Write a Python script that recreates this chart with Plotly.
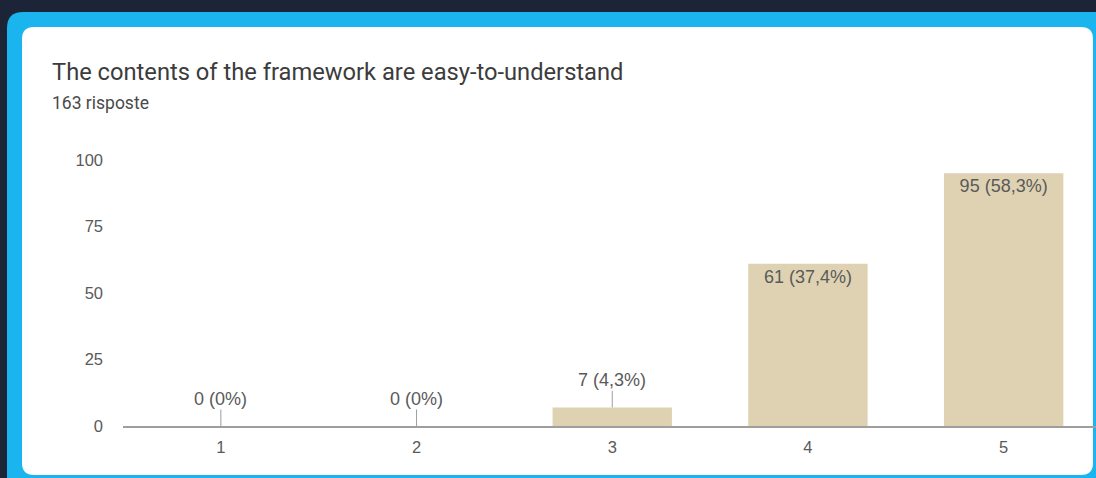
import plotly.graph_objects as go

categories = ["1", "2", "3", "4", "5"]
counts = [0, 0, 7, 61, 95]
percent_labels = ["0%", "0%", "4,3%", "37,4%", "58,3%"]
title_text = "The contents of the framework are easy-to-understand"
subtitle_text = "163 risposte"
y_ticks = [0, 25, 50, 75, 100]

W, H = 1096, 478
ML, MR, MT, MB = 123, 0, 160, 52
PW, PH = W - ML - MR, H - MT - MB

LABEL_FONT = "Liberation Sans, Arial, sans-serif"
TEXT_GRAY = "#5a5a5a"

def px(x, y):
    return (x - ML) / PW, (H - MB - y) / PH

def rounded_rect(x0, y0, x1, y1, r):
    pts = []
    a = px(x0 + r, y0); pts.append(f"M{a[0]},{a[1]}")
    a = px(x1 - r, y0); pts.append(f"L{a[0]},{a[1]}")
    c = px(x1, y0); e = px(x1, y0 + r); pts.append(f"Q{c[0]},{c[1]} {e[0]},{e[1]}")
    a = px(x1, y1 - r); pts.append(f"L{a[0]},{a[1]}")
    c = px(x1, y1); e = px(x1 - r, y1); pts.append(f"Q{c[0]},{c[1]} {e[0]},{e[1]}")
    a = px(x0 + r, y1); pts.append(f"L{a[0]},{a[1]}")
    c = px(x0, y1); e = px(x0, y1 - r); pts.append(f"Q{c[0]},{c[1]} {e[0]},{e[1]}")
    a = px(x0, y0 + r); pts.append(f"L{a[0]},{a[1]}")
    c = px(x0, y0); e = px(x0 + r, y0); pts.append(f"Q{c[0]},{c[1]} {e[0]},{e[1]}")
    pts.append("Z")
    return " ".join(pts)

labels = [f"{c} ({p})" for c, p in zip(counts, percent_labels)]
inside_text = [l if c >= 20 else "" for l, c in zip(labels, counts)]

fig = go.Figure()
fig.add_trace(go.Bar(
    x=[int(c) for c in categories], y=counts,
    marker=dict(color="#dfd2b3", line=dict(width=0)),
    width=0.61,
    text=inside_text, textposition="inside", insidetextanchor="end",
    textfont=dict(family=LABEL_FONT, size=18, color=TEXT_GRAY),
    textangle=0, cliponaxis=False, hoverinfo="skip",
))

annotations = []
for cat, c, l in zip(categories, counts, labels):
    if c < 20:
        annotations.append(dict(
            x=int(cat), y=c, xref="x", yref="y", text=l,
            showarrow=True, arrowhead=0, arrowwidth=1, arrowcolor="#9e9e9e",
            ax=0, ay=-27, standoff=0, borderpad=0,
            font=dict(family=LABEL_FONT, size=18, color=TEXT_GRAY),
        ))

tx, ty = px(50, 72)
annotations.append(dict(x=tx, y=ty, xref="paper", yref="paper", text=title_text,
                        showarrow=False, xanchor="left", yanchor="middle",
                        font=dict(family="Roboto", size=23.7, color="#3c3c3c")))
sx, sy = px(50, 103)
annotations.append(dict(x=sx, y=sy, xref="paper", yref="paper", text=subtitle_text,
                        showarrow=False, xanchor="left", yanchor="middle",
                        font=dict(family="Roboto", size=17.5, color="#4a4a4a")))

shapes = [
    dict(type="path", xref="paper", yref="paper", path=rounded_rect(7, 12, 1115, 495, 16),
         fillcolor="#1ab4ee", line=dict(width=0), layer="below"),
    dict(type="path", xref="paper", yref="paper", path=rounded_rect(22, 27, 1093, 475, 12),
         fillcolor="#ffffff", line=dict(width=0), layer="below"),
]

fig.update_layout(
    width=W, height=H,
    margin=dict(l=ML, r=MR, t=MT, b=MB, pad=0),
    paper_bgcolor="#1b2537", plot_bgcolor="rgba(0,0,0,0)",
    showlegend=False, bargap=0.39,
    annotations=annotations, shapes=shapes,
    font=dict(family=LABEL_FONT, color=TEXT_GRAY),
    xaxis=dict(range=[0.5, 0.5 + PW / 195.7], tickmode="array",
               tickvals=[int(c) for c in categories], ticktext=categories,
               showgrid=False, zeroline=False, showline=True, linecolor="#9e9e9e", linewidth=2,
               ticks="", ticklabelstandoff=5, tickfont=dict(family=LABEL_FONT, size=16.5, color=TEXT_GRAY),
               fixedrange=True),
    yaxis=dict(range=[0, 100], tickmode="array", tickvals=y_ticks,
               showgrid=False, zeroline=False, showline=False,
               ticks="", ticklabelstandoff=19, tickfont=dict(family=LABEL_FONT, size=16.5, color=TEXT_GRAY),
               fixedrange=True),
)

fig.write_html("out.html", config={"displayModeBar": False})

with open("out.html", "r", encoding="utf-8") as f:
    html = f.read()
html = html.replace("<head>", "<head><style>html,body{margin:0;padding:0;overflow:hidden;background:#1b2537;}</style>", 1)
with open("out.html", "w", encoding="utf-8") as f:
    f.write(html)
